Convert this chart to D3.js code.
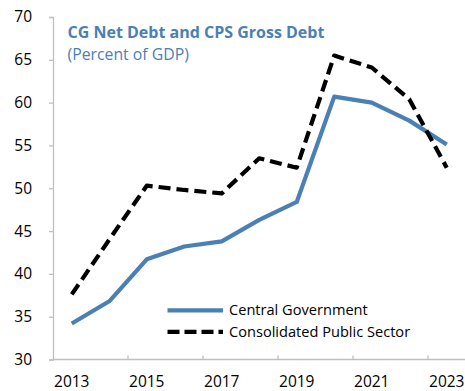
<!DOCTYPE html>
<html>
<head>
<meta charset="utf-8">
<script src="https://cdn.jsdelivr.net/npm/d3@7"></script>
<style>
  html, body { margin: 0; padding: 0; background: #fff; }
  svg text { font-family: "Open Sans", "Noto Sans", sans-serif; }
</style>
</head>
<body>
<svg id="chart" width="465" height="391"></svg>
<script>
// Debt ratios, percent of GDP
const years = ["2013","2014","2015","2016","2017","2018","2019","2020","2021","2022","2023"];
const centralGovernment = [34.2, 36.8, 41.7, 43.2, 43.8, 46.3, 48.4, 60.7, 60.0, 57.9, 55.1];
const consolidatedPublicSector = [37.6, 44.0, 50.3, 49.8, 49.4, 53.5, 52.4, 65.5, 64.1, 60.4, 52.4];
const yTicks = [30, 35, 40, 45, 50, 55, 60, 65, 70];
const xTickLabels = ["2013","2015","2017","2019","2021","2023"];

const svg = d3.select("#chart");
const margin = { left: 53, top: 17 };
const width = 465.5;

const x = d3.scaleBand().domain(years).range([margin.left, width]).paddingInner(0).paddingOuter(0);
const y = d3.scaleLinear().domain([30, 70]).range([359.5, margin.top]);
const cx = d => x(d) + x.bandwidth() / 2;

const axisColor = "#bfbfbf";
const blue = "#4a80b5";

// y axis
const yAxis = svg.append("g").attr("transform", `translate(${margin.left},0)`)
  .call(d3.axisLeft(y).tickValues(yTicks).tickSize(4).tickPadding(17).tickFormat(d3.format("d")));
yAxis.select(".domain").attr("stroke", axisColor).attr("stroke-width", 1.3);
yAxis.selectAll(".tick line").attr("stroke", axisColor).attr("stroke-width", 1.3);
yAxis.selectAll(".tick text").attr("font-size", 15.5).attr("fill", "#000");

// x axis: ticks at every second category boundary, labels centred in the band
const xAxisG = svg.append("g");
xAxisG.append("line")
  .attr("x1", margin.left).attr("x2", width)
  .attr("y1", y(30)).attr("y2", y(30))
  .attr("stroke", axisColor).attr("stroke-width", 1.3);
const boundaries = years.filter((d, i) => i > 0 && i % 2 === 0);
xAxisG.selectAll("line.tick").data(boundaries).join("line")
  .attr("class", "tick")
  .attr("x1", d => x(d)).attr("x2", d => x(d))
  .attr("y1", y(30)).attr("y2", y(30) - 4)
  .attr("stroke", axisColor).attr("stroke-width", 1.3);
xAxisG.selectAll("text").data(xTickLabels).join("text")
  .attr("x", d => cx(d)).attr("y", y(30) + 27)
  .attr("text-anchor", "middle").attr("font-size", 15.5).attr("fill", "#000")
  .text(d => d);

// lines
const line = vals => d3.line().x((d, i) => cx(years[i])).y(d => y(d))(vals);
svg.append("path").attr("d", line(centralGovernment))
  .attr("fill", "none").attr("stroke", blue).attr("stroke-width", 4.2)
  .attr("stroke-linejoin", "round");
svg.append("path").attr("d", line(consolidatedPublicSector))
  .attr("fill", "none").attr("stroke", "#000").attr("stroke-width", 4.2)
  .attr("stroke-dasharray", "12,6").attr("stroke-linejoin", "round");

// title
svg.append("text").attr("x", 67.5).attr("y", 38.3)
  .attr("font-size", 16).attr("font-weight", "bold").attr("fill", blue)
  .text("CG Net Debt and CPS Gross Debt");
svg.append("text").attr("x", 67.5).attr("y", 60)
  .attr("font-size", 15.8).attr("fill", blue)
  .text("(Percent of GDP)");

// legend
const legend = [
  { name: "Central Government", color: blue, dash: null, y: 310.3 },
  { name: "Consolidated Public Sector", color: "#000", dash: "12,5", y: 331.8 }
];
const lg = svg.append("g");
lg.selectAll("line").data(legend).join("line")
  .attr("x1", 167.5).attr("x2", 223).attr("y1", d => d.y).attr("y2", d => d.y)
  .attr("stroke", d => d.color).attr("stroke-width", 4.2)
  .attr("stroke-dasharray", d => d.dash);
lg.selectAll("text").data(legend).join("text")
  .attr("x", 229).attr("y", d => d.y + 5)
  .attr("font-size", 14.6).attr("fill", "#000")
  .text(d => d.name);
</script>
</body>
</html>
